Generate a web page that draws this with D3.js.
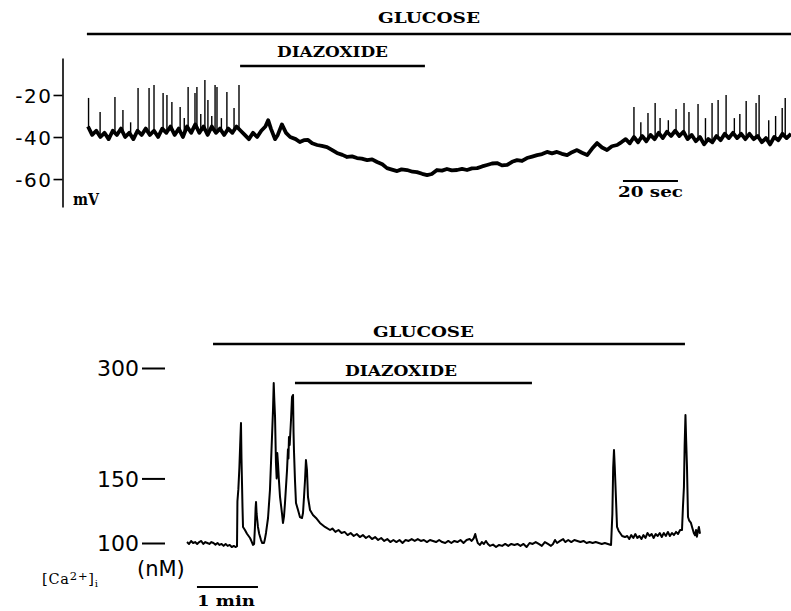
<!DOCTYPE html>
<html><head><meta charset="utf-8">
<script src="https://cdn.jsdelivr.net/npm/d3@7"></script>
<style>body{margin:0;background:#fff}</style>
</head><body>
<svg id="c" width="791" height="611"></svg>
<script>
// ---------- DATA ----------
// Top panel: membrane potential (mV) vs time (s)
const topTicks = [-20, -40, -60];
const topTrace = [
[0,-35],[1.5,-39],[3,-37],[4.5,-40],[6,-38],[7.5,-41],[9,-37],[10.5,-39],[12,-36],[13.5,-40],[15,-38],[16.5,-41],[18,-37],[19.5,-39],[21,-36],[22.5,-39],[24,-37],[25.5,-40],[27,-36],[28.5,-38],[30,-35],[31.5,-39],[33,-36],[34.5,-40],[36,-35],[37.5,-38],[39,-34],[40.5,-38],[42,-35],[43.5,-39],[45,-35],[46.5,-38],[48,-36],[49.5,-39],[51,-36],[52.5,-38],[54,-35],[55.5,-37],[57,-39],[58.5,-41],[60,-38],[61.5,-40],[63,-37],[64.5,-35],[65.5,-32],[66.5,-36],[68,-41],[69,-39],[70.5,-34],[72,-38],[73.5,-40],[75.5,-41],[77,-42.4],[78.5,-41.5],[80,-41.4],[81.5,-43],[83.3,-43.8],[85,-44.2],[86.9,-44.8],[88.5,-46],[90.5,-47.6],[92.5,-48.5],[94.2,-49.5],[96,-49.2],[97.8,-50],[99.5,-50.3],[101.5,-51],[103.3,-50.6],[105.1,-51.9],[107,-53],[108.7,-54.8],[110.5,-55.5],[112.4,-56.2],[114,-55.4],[116,-55.7],[118,-56.5],[119.6,-56.7],[121.5,-57.5],[123.3,-58.1],[125,-57.6],[126.9,-55.7],[128.7,-56],[130.5,-55.2],[132.3,-55.9],[134.2,-55.7],[136,-55.2],[137.8,-55.7],[139.6,-54.9],[141.5,-54.8],[143.3,-54],[145.1,-53.3],[146.9,-52.6],[148.7,-52.4],[150.5,-53.5],[152.4,-53.3],[154.2,-51.8],[156,-51],[157.8,-51.4],[159.6,-50],[161.5,-49.3],[163.3,-48.6],[165.1,-48.1],[166.9,-47.1],[168.7,-47.8],[170.5,-47.1],[172.3,-48],[174.2,-48.6],[176,-47.2],[177.8,-46.2],[179.6,-47.5],[181.5,-48.6],[183.3,-45.5],[185.1,-42.9],[186.9,-45],[188.7,-46.2],[190.5,-44.4],[192.4,-43.8],[194,-42.4],
[195.5,-41],[197,-43],[198.5,-40],[200,-42.5],[201.5,-39.5],[203,-42],[204.5,-39],[206,-41],[207.5,-38],[209,-40.5],[210.5,-37.5],[212,-39.5],[213.5,-37],[215,-39.5],[216.5,-37.5],[218,-41],[219.5,-39],[221,-42],[222.5,-40],[224,-43.5],[225.5,-41],[227,-42.5],[228.5,-39.5],[230,-41.5],[231.5,-38.5],[233,-40.5],[234.5,-38],[236,-40.5],[237.5,-38.5],[239,-41],[240.5,-38.5],[242,-41],[243.5,-39.5],[245,-42.5],[246.5,-40.5],[248,-43.5],[249.5,-40],[251,-41.5],[252.5,-38.5],[254,-40.5],[255.6,-38.5]
];
// action-potential spikes: [time (s), peak (mV)]
const topSpikes = [
[0.2,-21.4],[4.4,-28.1],[9.8,-21],[12.7,-27.1],[15.5,-33],[18.2,-16.7],[22.2,-16.7],[24,-15.2],[27.3,-19],[28.7,-20],[30.5,-23.3],[33.5,-25.7],[35,-31],[36.4,-16.2],[38.9,-19],[39.6,-16.2],[41,-29],[42.5,-12.9],[43.6,-22.4],[45,-30],[46.2,-15.2],[46.9,-16.2],[48.5,-31],[50.5,-18.6],[53.1,-26.2],[54.9,-15.2],
[198.5,-25.7],[201,-33],[203.6,-28.6],[206.2,-23.8],[208,-31],[211,-32],[213.8,-26.7],[216.7,-23.8],[218.5,-28.1],[221.8,-24.3],[224.5,-31],[226.9,-23.8],[229.1,-22.4],[232,-20],[235,-31],[237,-29],[239.3,-22.9],[242.9,-23.8],[244,-20],[247.5,-32],[250,-30],[252.4,-26.2],[253.5,-21.4]
];
const topBars = [
  {label:"GLUCOSE", start:-0.4, end:256},
  {label:"DIAZOXIDE", start:55.3, end:122.5}
];
const topScale = {start:194.5, length:20, label:"20 sec"};

// Bottom panel: [Ca2+]i (nM, log axis) vs time (s)
const bottomTicks = [300, 150, 100];
const bottomTrace = [
[0,100.6],[2,99.4],[4,101.3],[6,100],[8,100.6],[10,99.4],[12,100.6],[14,101.3],[16,99.4],[18,100.6],[20,100],[22,99.4],[24,100.6],[26,100],[28,99],[30,100],[32,98.8],[34,99.4],[36,98.2],[38,99.4],[40,98.2],[42,98.8],[44,97.5],[46,98.2],[48,97.5],[49.2,98],
[49.6,130],[50.5,140],[51.5,160],[52.3,185],[53.1,212.4],[53.6,170],[54.1,145.8],[54.6,125],[55.1,110.6],[57,108.5],[59,106],[62,103.2],[63.5,101],[64.9,98.8],[66,99.4],[66.8,110],[67.5,125],[67.9,129.4],[68.5,120],[69.8,110.6],[71,106],[72.8,101.9],[74,100],[75.7,100],[76.5,102],[77.7,106.5],[79.7,117],[81.6,139.5],[83.6,194.6],[84.6,230.6],[85.3,273],[85.9,245],[86.6,220.7],[87.5,165.2],[88.2,150],[88.8,176],[89.5,165],[90.3,150],[91.5,133.5],[93.4,120.7],[94.4,113.4],[95.4,118],[96.4,128.6],[98.4,158.1],[99.3,180],[99.8,170],[100.3,194.6],[101,185],[102.3,216.5],[103.3,250.2],[104.3,253.3],[104.8,200],[105.2,179.3],[106.2,148.5],[107.2,128.6],[109.2,123],[111.1,117.7],[113.1,117],[114.1,120.7],[115.2,135],[116.1,148.5],[117,168.4],[118,158.1],[119,133.5],[121,123],[123.9,119.2],[126.9,117],[130.8,113.4],[135.7,110.6],[140.7,108.5],
[143,109.5],[146,107.2],[149,108.5],[152,106.5],[155,107.2],[158,105.1],[161,106.5],[164,104.5],[167,105.8],[170,103.8],[173,105.1],[176,103.2],[179,104.5],[182,102.5],[185,103.8],[188,101.9],[191,103.2],[194,101.3],[197,102.5],[200,100.6],[203,101.9],[206,100.6],[209,101.9],[212,100],[215,101.9],[218,101.3],[221,102.5],[224,101.3],[227,102.5],[230,101.3],[233,101.9],[236,100.6],[239,101.9],[242,101.3],[245,100.6],[248,101.9],[251,100.6],[254,100],[257,101.3],[260,100],[263,101.3],[266,100.6],[269,101.9],[272,100],[275,101.9],[278,102.5],[280,101.3],[282,103],[283.5,105.8],[284.5,103.2],[286,100],[288.2,98.8],[290,100.6],[292,99.4],[294,101.3],[296,99.4],[298,98.2],[301,99],[304,97.5],[307,98.8],[310,98.2],[313,99.4],[316,98.2],[319,99.4],[322,98.8],[325,99.4],[328,98.2],[331,99.4],[334,97.5],[337,100],[340,99.4],[343,100.6],[346,99.4],[349,98.2],[352,100.6],[355,99.4],[358,98.2],[360,99.4],[362,101.9],[364,100],[367,101.3],[370,102.5],[372,100.6],[375,101.9],[378,100.6],[381,101.9],[384,101.3],[387,100.6],[390,101.3],[393,100],[396,100.6],[399,100],[402,100.6],[405,100],[408,99.4],[411,100],[414,99.4],[417.1,98.8],
[418.4,120],[419.2,160],[420,179.3],[420.8,160],[422,131],[423,110.6],[424.5,108],[426,106.5],[428,104.5],[430.8,103.8],[433,104.5],[435,102.5],[437,105.1],[439,103.2],[441,105.8],[443,103.2],[445,104.5],[447,102.5],[449,105.1],[451,103.2],[453,106.5],[455,104.5],[457,105.8],[459,103.2],[461,105.8],[463,104.5],[465,106.5],[467,103.8],[469,106.5],[471,104.5],[473,107.2],[475,104.5],[477,106.5],[479,105.1],[481,107.2],[483,105.8],[485,108.5],[486.9,108.5],
[487.8,125],[488.8,142.1],[489.5,185],[490.3,223.4],[491,190],[491.8,161.1],[492.8,117.7],[494,115],[495.7,113.4],[497,110],[498.5,106.5],[499.7,105],[500.7,108.5],[501.5,104],[502.6,107.8],[503.5,110.6],[504.6,106]
];
const bottomBars = [
  {label:"GLUCOSE", start:25.6, end:489.8},
  {label:"DIAZOXIDE", start:106.2, end:339.3}
];
const bottomScale = {start:9.8, length:60, label:"1 min"};

// ---------- DRAWING ----------
const svg = d3.select("#c");
svg.append("rect").attr("width",791).attr("height",611).attr("fill","#fff");
const serif = "'DejaVu Serif', 'Liberation Serif', serif";
const sans = "'DejaVu Sans', 'Liberation Sans', sans-serif";

function boldLabel(text, x0, x1, baseline, size){
  svg.append("text").attr("x",x0).attr("y",baseline)
    .attr("font-family",serif).attr("font-weight","bold").attr("font-size",size)
    .attr("textLength",x1-x0).attr("lengthAdjust","spacingAndGlyphs")
    .attr("fill","#000").text(text);
}

// ----- top panel -----
const xTop = d3.scaleLinear().domain([0,255.6]).range([88,791]);
const yTop = d3.scaleLinear().domain([-73.3,-2.4]).range([207,58]);

const axT = svg.append("g").attr("transform","translate(62.5,0)")
  .call(d3.axisLeft(yTop).tickValues(topTicks).tickSize(9).tickSizeOuter(0).tickPadding(1)
    .tickFormat(d => "-" + Math.abs(d)));
axT.select(".domain").attr("stroke","#000").attr("stroke-width",1.6);
axT.selectAll(".tick line").attr("stroke","#000").attr("stroke-width",1.6);
axT.selectAll(".tick text").attr("font-family",sans).attr("font-size",20)
  .attr("letter-spacing","1.5px").attr("fill","#000").attr("dy","0.36em");

const lineTop = d3.line().x(d=>xTop(d[0])).y(d=>yTop(d[1]));
svg.append("path").datum(topTrace).attr("d",lineTop)
  .attr("fill","none").attr("stroke","#000").attr("stroke-width",3.8)
  .attr("stroke-linejoin","round");

const bis = d3.bisector(d=>d[0]).left;
function baseAt(arr,t){
  const i = Math.max(1, Math.min(arr.length-1, bis(arr,t)));
  const a = arr[i-1], b = arr[i];
  const f = (t-a[0])/(b[0]-a[0]);
  return a[1] + (b[1]-a[1])*f;
}
svg.append("g").selectAll("line").data(topSpikes).join("line")
  .attr("x1",d=>xTop(d[0])).attr("x2",d=>xTop(d[0]))
  .attr("y1",d=>yTop(baseAt(topTrace,d[0]))).attr("y2",d=>yTop(d[1]))
  .attr("stroke","#000").attr("stroke-width",1.4);

// treatment bars
const topBarY = [34, 66];
topBars.forEach((b,i)=>{
  svg.append("line").attr("x1",xTop(b.start)).attr("x2",xTop(b.end))
    .attr("y1",topBarY[i]).attr("y2",topBarY[i]).attr("stroke","#000").attr("stroke-width",2.6);
});
boldLabel(topBars[0].label, 378, 480, 23, 15);
boldLabel(topBars[1].label, 277, 388, 57, 15);

// mV label
boldLabel("mV", 73, 99, 205, 16);

// 20 sec scale bar
svg.append("line").attr("x1",xTop(topScale.start)).attr("x2",xTop(topScale.start+topScale.length))
  .attr("y1",181).attr("y2",181).attr("stroke","#000").attr("stroke-width",2);
boldLabel(topScale.label, 618, 683, 197, 15);

// ----- bottom panel -----
const xBot = d3.scaleLinear().domain([0,504.6]).range([187,700]);
const yBot = d3.scaleLog().domain([100,300]).range([543,368]);

const axB = svg.append("g").attr("transform","translate(165,0)")
  .call(d3.axisLeft(yBot).tickValues(bottomTicks).tickSize(23).tickSizeOuter(0).tickPadding(3)
    .tickFormat(d3.format("d")));
axB.select(".domain").remove();
axB.selectAll(".tick line").attr("stroke","#000").attr("stroke-width",2);
axB.selectAll(".tick text").attr("font-family",sans).attr("font-size",22)
  .attr("fill","#000").attr("dy","0.36em");

const lineBot = d3.line().x(d=>xBot(d[0])).y(d=>yBot(d[1]));
svg.append("path").datum(bottomTrace).attr("d",lineBot)
  .attr("fill","none").attr("stroke","#000").attr("stroke-width",2)
  .attr("stroke-linejoin","round");

const botBarY = [344, 383];
bottomBars.forEach((b,i)=>{
  svg.append("line").attr("x1",xBot(b.start)).attr("x2",xBot(b.end))
    .attr("y1",botBarY[i]).attr("y2",botBarY[i]).attr("stroke","#000").attr("stroke-width",2.6);
});
boldLabel(bottomBars[0].label, 373, 474, 337, 15);
boldLabel(bottomBars[1].label, 345, 457, 376, 15);

// (nM) and [Ca2+]i
svg.append("text").attr("x",137).attr("y",576).attr("font-family",sans)
  .attr("font-size",21).attr("fill","#000").text("(nM)");
const ca = svg.append("text").attr("x",42).attr("y",584).attr("font-family",serif)
  .attr("font-size",14.5).attr("fill","#000").attr("letter-spacing","0.8px");
ca.append("tspan").text("[Ca");
ca.append("tspan").attr("dy",-4).attr("font-size",11.5).text("2+");
ca.append("tspan").attr("dy",4).text("]");
ca.append("tspan").attr("dy",3).attr("font-size",10).text("i");

// 1 min scale bar
svg.append("line").attr("x1",xBot(bottomScale.start)).attr("x2",xBot(bottomScale.start+bottomScale.length))
  .attr("y1",587).attr("y2",587).attr("stroke","#000").attr("stroke-width",2);
boldLabel(bottomScale.label, 197, 255, 606, 15);
</script>
</body></html>
